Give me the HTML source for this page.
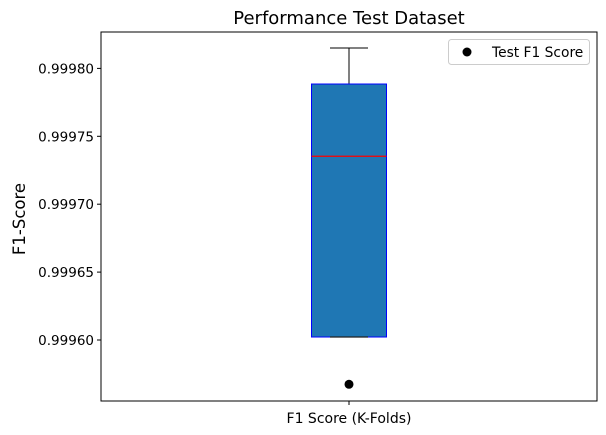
<!DOCTYPE html>
<html><head><meta charset="utf-8"><style>
body{margin:0;background:#fff;}
svg{display:block;font-family:"DejaVu Sans","Liberation Sans",sans-serif;}
</style></head><body>
<svg id="chart" width="606" height="435"></svg>
<script>
const categories = ["F1 Score (K-Folds)"];
const q1Values = [0.9996022];
const medianValues = [0.9997353];
const q3Values = [0.9997885];
const whiskerLow = [0.9996022];
const whiskerHigh = [0.999815];
const testScores = [0.9995674];
const yTicks = [0.9996, 0.99965, 0.9997, 0.99975, 0.9998];
const yTickLabels = ["0.99960", "0.99965", "0.99970", "0.99975", "0.99980"];

const NS = "http://www.w3.org/2000/svg";
const svg = document.getElementById("chart");
const L = 101, R = 597, T = 32, B = 401;
function y(v){ return 340 - (v - 0.9996) / 0.00005 * 67.9; }
function x(i){ return 349 + i * 100; }
function mk(tag, attrs, parent){
  const e = document.createElementNS(NS, tag);
  for (const k in attrs) e.setAttribute(k, attrs[k]);
  (parent || svg).appendChild(e);
  return e;
}
let t;
t = mk("text", {x: 349, y: 24, "text-anchor": "middle", "font-size": 18, fill: "#000"});
t.textContent = "Performance Test Dataset";


t = mk("text", {x: 25, y: 219, "text-anchor": "middle", "font-size": 16.5, transform: "rotate(-90 25 219)"});
t.textContent = "F1-Score";



yTicks.forEach((v, i) => {
  const l = mk("line", {x1: L - 4, x2: L, y1: y(v), y2: y(v), stroke: "#000", "stroke-width": 1});
  
  
  const tx = mk("text", {x: L - 7, y: y(v) + 5, "text-anchor": "end", "font-size": 13.5});
  tx.textContent = yTickLabels[i];
  
  
});

categories.forEach((c, i) => {
  const cx = x(i), w = 75;
  const g = mk("g", {});
  
  
  mk("line", {x1: cx, x2: cx, y1: y(whiskerHigh[i]), y2: y(q3Values[i]), stroke: "#000"}, g);
  mk("line", {x1: cx - 19, x2: cx + 19, y1: y(whiskerHigh[i]), y2: y(whiskerHigh[i]), stroke: "#000"}, g);
  mk("line", {x1: cx, x2: cx, y1: y(whiskerLow[i]), y2: y(q1Values[i]), stroke: "#000"}, g);
  mk("rect", {x: cx - w/2, y: y(q3Values[i]), width: w, height: y(q1Values[i]) - y(q3Values[i]), fill: "#1f77b4", stroke: "#0000ff", "stroke-width": 1}, g);
  mk("line", {x1: cx - 19, x2: cx + 19, y1: y(whiskerLow[i]), y2: y(whiskerLow[i]), stroke: "#222", "stroke-width": 1.2}, g);
  mk("line", {x1: cx - w/2, x2: cx + w/2, y1: y(medianValues[i]), y2: y(medianValues[i]), stroke: "#ff0000", "stroke-width": 1.2}, g);
  const p = mk("circle", {cx: cx, cy: y(testScores[i]), r: 4.5, fill: "#000"});
  
  
  mk("line", {x1: cx, x2: cx, y1: B, y2: B + 4, stroke: "#000"});
  const tx = mk("text", {x: cx, y: B + 22, "text-anchor": "middle", "font-size": 14});
  tx.textContent = c;
  
  
});

const frame = mk("rect", {x: L, y: T, width: R - L, height: B - T, fill: "none", stroke: "#000", "stroke-width": 1});



const lg = mk("g", {});


mk("rect", {x: 448.5, y: 39.5, width: 141, height: 25, rx: 3, fill: "#fff", stroke: "#ccc"}, lg);
mk("circle", {cx: 467, cy: 52, r: 4.5, fill: "#000"}, lg);
t = mk("text", {x: 492, y: 57, "font-size": 13.8}, lg);
t.textContent = "Test F1 Score";


</script>
</body></html>
